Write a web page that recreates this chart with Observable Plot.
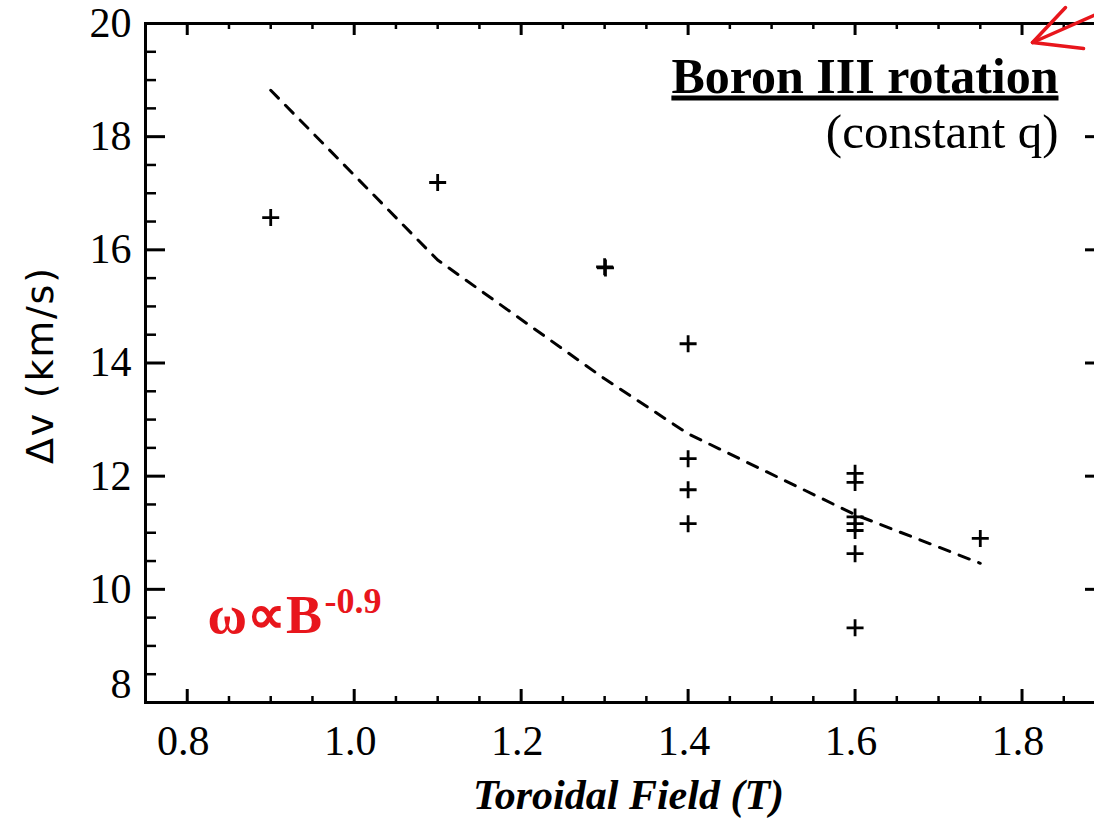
<!DOCTYPE html>
<html>
<head>
<meta charset="utf-8">
<script src="https://cdn.jsdelivr.net/npm/d3@7"></script>
<script src="https://cdn.jsdelivr.net/npm/@observablehq/plot@0.6"></script>
<style>
  html, body { margin: 0; padding: 0; background: #fff; overflow: hidden; }
  #chart svg { display: block; overflow: hidden; }
</style>
</head>
<body>
<div id="chart"></div>
<script>
// Measured B III rotation shifts versus toroidal field
const fieldT = [0.9, 1.1, 1.3, 1.301, 1.4, 1.4, 1.4, 1.4, 1.6, 1.6, 1.6, 1.6, 1.6, 1.6, 1.6, 1.75];
const deltaV = [16.57, 17.19, 15.70, 15.68, 14.34, 12.31, 11.76, 11.16, 12.05, 11.89, 11.28, 11.16, 11.04, 10.63, 9.32, 10.90];

// Power-law fit (omega ~ B^-0.9) evaluated at the measured fields
const fitT = [0.9, 1.1, 1.3, 1.4, 1.6, 1.75];
const fitV = [18.82, 15.82, 13.72, 12.75, 11.32, 10.46];

// Axis ticks
const xMajorTicks = [0.8, 1.0, 1.2, 1.4, 1.6, 1.8];
const xMinorTicks = d3.range(0.75, 1.9001, 0.05).filter(v => !xMajorTicks.some(m => Math.abs(m - v) < 1e-6));
const yMajorTicks = [8, 10, 12, 14, 16, 18, 20];
const yMinorTicks = d3.range(8, 20.001, 0.5).filter(v => v % 2 !== 0);

// Hand-drawn pointer in the upper-right corner (tip first)
const pointerX = [1.8126, 1.8940, 1.8126, 1.8521, 1.8126, 1.8737];
const pointerY = [19.664, 20.194, 19.664, 20.283, 19.664, 19.558];
const pointerSeg = [0, 0, 1, 1, 2, 2];

const W = 1094, H = 818;
const M = {top: 23, right: -11, bottom: 116, left: 145};
const frameW = W - M.left - M.right;
const frameH = H - M.top - M.bottom;

const serif = "'Liberation Serif', 'Times New Roman', Times, serif";
const red = "#e8161c";

const points = fieldT.map((t, i) => ({t, v: deltaV[i]}));
const fit = fitT.map((t, i) => ({t, v: fitV[i]}));
const pointer = pointerX.map((x, i) => ({x, y: pointerY[i], s: pointerSeg[i]}));

// thin "+" marker
const plus = {
  draw(ctx, size) {
    const r = Math.sqrt(size / Math.PI);
    ctx.moveTo(-r, 0); ctx.lineTo(r, 0);
    ctx.moveTo(0, -r); ctx.lineTo(0, r);
  }
};

const chart = Plot.plot({
  width: W,
  height: H,
  marginTop: M.top,
  marginRight: M.right,
  marginBottom: M.bottom,
  marginLeft: M.left,
  style: {fontFamily: serif, background: "#fff", color: "#000"},
  x: {domain: [0.75, 1.9], range: [M.left, W - M.right], axis: null},
  y: {domain: [8, 20], range: [H - M.bottom, M.top], axis: null},
  marks: [
    Plot.frame({stroke: "#000", strokeWidth: 3}),
    // bottom ticks
    Plot.tickX(xMajorTicks, {x: d => d, insetTop: frameH - 13, stroke: "#000", strokeWidth: 3}),
    Plot.tickX(xMinorTicks, {x: d => d, insetTop: frameH - 6, stroke: "#000", strokeWidth: 2.5}),
    // top ticks
    Plot.tickX(xMajorTicks, {x: d => d, insetBottom: frameH - 12, stroke: "#000", strokeWidth: 3}),
    Plot.tickX(xMinorTicks, {x: d => d, insetBottom: frameH - 6, stroke: "#000", strokeWidth: 2.5}),
    // left ticks
    Plot.tickY(yMajorTicks, {y: d => d, insetRight: frameW - 20, stroke: "#000", strokeWidth: 3}),
    Plot.tickY(yMinorTicks, {y: d => d, insetRight: frameW - 11, stroke: "#000", strokeWidth: 2.5}),
    // right ticks
    Plot.tickY(yMajorTicks, {y: d => d, insetLeft: frameW - 20, stroke: "#000", strokeWidth: 3}),
    Plot.tickY(yMinorTicks, {y: d => d, insetLeft: frameW - 11, stroke: "#000", strokeWidth: 2.5}),

    // tick labels
    Plot.text(xMajorTicks, {x: d => d, frameAnchor: "bottom", dy: 39, dx: -4, text: d => d.toFixed(1),
      fontSize: 42, textAnchor: "middle", lineAnchor: "middle", fill: "#000"}),
    Plot.text(yMajorTicks.filter(v => v !== 8), {y: d => d, frameAnchor: "left", dx: -14, text: d => String(d),
      fontSize: 42, textAnchor: "end", lineAnchor: "middle", fill: "#000"}),
    Plot.text(yMajorTicks.filter(v => v === 8), {y: d => d, frameAnchor: "left", dx: -14, dy: -18, text: d => String(d),
      fontSize: 42, textAnchor: "end", lineAnchor: "middle", fill: "#000"}),

    // axis titles
    Plot.text(["Toroidal Field (T)"], {frameAnchor: "bottom", dx: 3, dy: 106, textAnchor: "middle", lineAnchor: "bottom",
      fontSize: 42, fontWeight: "bold", fontStyle: "italic", fill: "#000"}),
    Plot.text(["\u0394v (km/s)"], {frameAnchor: "left", dx: -105, dy: 3, rotate: -90, textAnchor: "middle", lineAnchor: "middle",
      fontSize: 38, fontFamily: "'DejaVu Sans', 'Liberation Sans', sans-serif", fill: "#000"}),

    // fit curve and measurements
    Plot.line(fit, {x: "t", y: "v", stroke: "#000", strokeWidth: 3, strokeDasharray: "11,10"}),
    Plot.dot(points, {x: "t", y: "v", symbol: plus, r: 8.5, stroke: "#000", strokeWidth: 2.8, fill: "none"}),

    // annotations
    Plot.text(["Boron III rotation"], {frameAnchor: "top-right", dx: -47, dy: 69, textAnchor: "end", lineAnchor: "bottom",
      fontSize: 50, fontWeight: "bold", fill: "#000"}),
    Plot.text(["(constant q)"], {frameAnchor: "top-right", dx: -47, dy: 124, textAnchor: "end", lineAnchor: "bottom",
      fontSize: 49, fill: "#000"}),
    Plot.text(["\u03C9\u221DB"], {frameAnchor: "bottom-left", dx: 62, dy: -70, textAnchor: "start", lineAnchor: "bottom",
      fontSize: 54, fontWeight: "bold", fill: red}),
    Plot.text(["-0.9"], {frameAnchor: "bottom-left", dx: 179, dy: -90, textAnchor: "start", lineAnchor: "bottom",
      fontSize: 36, fontWeight: "bold", fill: red}),
    Plot.line(pointer, {x: "x", y: "y", z: "s", stroke: red, strokeWidth: 3.5, strokeLinecap: "round", clip: false})
  ]
});

chart.querySelectorAll("text").forEach(t => {
  // underlined heading
  if (t.textContent === "Boron III rotation") {
    t.style.textDecoration = "underline";
    t.style.textDecorationThickness = "3px";
    t.style.textUnderlineOffset = "6px";
  }
  // widely set vertical axis title
  if (t.textContent === "\u0394v (km/s)") {
    t.setAttribute("textLength", 196);
    t.setAttribute("lengthAdjust", "spacing");
  }
});

document.getElementById("chart").appendChild(chart);
</script>
</body>
</html>
